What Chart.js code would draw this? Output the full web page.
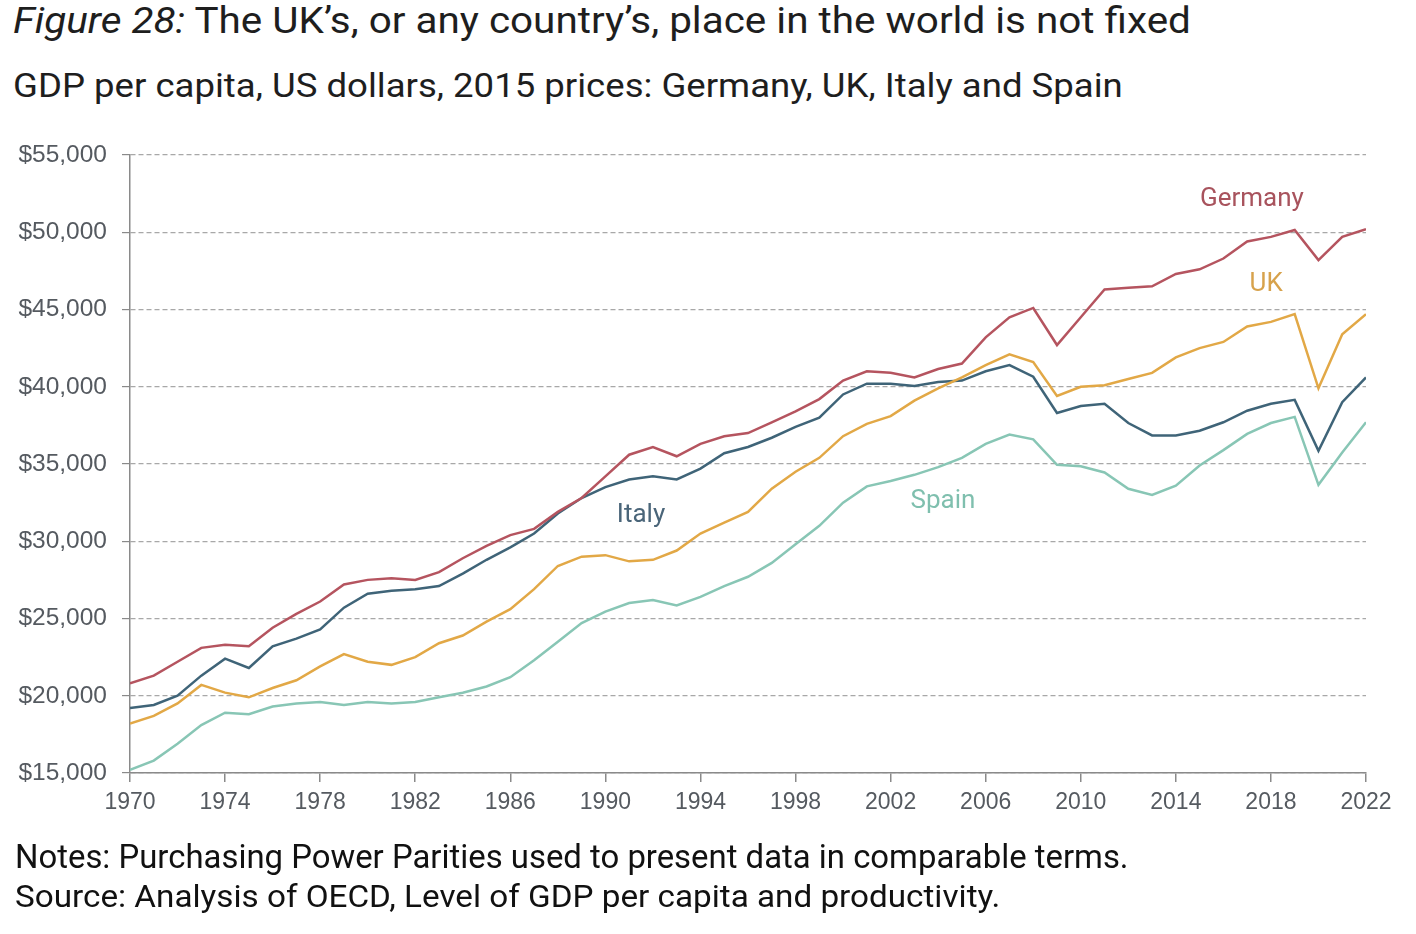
<!DOCTYPE html>
<html>
<head>
<meta charset="utf-8">
<script src="https://cdn.jsdelivr.net/npm/chart.js@4.4.0/dist/chart.umd.min.js"></script>
<style>
  html, body { margin: 0; padding: 0; background: #ffffff; }
  body { width: 1416px; height: 934px; position: relative; overflow: hidden; font-family: Roboto, "Liberation Sans", sans-serif; }
  #c { position: absolute; left: 0; top: 0; }
  .txt { position: absolute; left: 13px; white-space: nowrap; color: #1e1e1e; }
  .txt span.inner { display: inline-block; transform-origin: 0 50%; }
</style>
</head>
<body>
<div class="txt" id="title" style="top:3px;font-size:36px;line-height:36px;"><span class="inner"><i>Figure 28:</i> The UK’s, or any country’s, place in the world is not fixed</span></div>
<div class="txt" id="subtitle" style="top:69px;font-size:33px;line-height:33px;"><span class="inner">GDP per capita, US dollars, 2015 prices: Germany, UK, Italy and Spain</span></div>
<canvas id="c" width="1416" height="934"></canvas>
<div class="txt" id="notes" style="top:840px;font-size:33px;line-height:33px;left:15px;color:#111;"><span class="inner">Notes: Purchasing Power Parities used to present data in comparable terms.</span></div>
<div class="txt" id="source" style="top:880px;font-size:32px;line-height:32px;left:15px;color:#111;"><span class="inner">Source: Analysis of OECD, Level of GDP per capita and productivity.</span></div>
<script>
// ---- data ----
const years = [1970,1971,1972,1973,1974,1975,1976,1977,1978,1979,1980,1981,1982,1983,1984,1985,1986,1987,1988,1989,1990,1991,1992,1993,1994,1995,1996,1997,1998,1999,2000,2001,2002,2003,2004,2005,2006,2007,2008,2009,2010,2011,2012,2013,2014,2015,2016,2017,2018,2019,2020,2021,2022];
const germany = [20800,21300,22200,23100,23300,23200,24400,25300,26100,27200,27500,27600,27500,28000,28900,29700,30400,30800,31900,32800,34200,35600,36100,35500,36300,36800,37000,37700,38400,39200,40400,41000,40900,40600,41150,41500,43200,44500,45100,42700,44500,46300,46400,46500,47300,47600,48300,49400,49700,50150,48200,49700,50200];
const uk = [18200,18700,19500,20700,20200,19900,20500,21000,21900,22700,22200,22000,22500,23400,23900,24800,25600,26900,28400,29000,29100,28700,28800,29400,30500,31200,31900,33400,34500,35400,36800,37600,38100,39100,39900,40600,41400,42100,41600,39400,40000,40100,40500,40900,41900,42500,42900,43900,44200,44700,39900,43400,44700];
const italy = [19200,19400,20000,21300,22400,21800,23200,23700,24300,25700,26600,26800,26900,27100,27900,28800,29600,30500,31800,32800,33500,34000,34200,34000,34700,35700,36100,36700,37400,38000,39500,40200,40200,40050,40300,40400,41000,41400,40650,38300,38750,38900,37650,36850,36850,37150,37700,38450,38900,39150,35850,39000,40600];
const spain = [15200,15800,16900,18100,18900,18800,19300,19500,19600,19400,19600,19500,19600,19900,20200,20600,21200,22300,23500,24700,25450,26000,26200,25850,26400,27100,27700,28600,29800,31000,32500,33550,33900,34300,34800,35400,36300,36900,36600,34950,34850,34450,33400,33000,33600,34900,35900,36950,37650,38050,33650,35750,37700];
const seriesNames = ["Germany","UK","Italy","Spain"];
const yTicks = [15000,20000,25000,30000,35000,40000,45000,50000,55000];
const xTicks = [1970,1974,1978,1982,1986,1990,1994,1998,2002,2006,2010,2014,2018,2022];
// series label anchors (in data units: year, value)
const labelYears = [2017.2, 2017.8, 1991.5, 2004.2];
const labelValues = [52150, 46600, 31650, 32600];

const lineColors = ["#b5545f","#e2a846","#3f6478","#88c6b5"];
const labelColors = ["#a8535d","#d7a24c","#4a6579","#7fbfae"];
const seriesValues = [germany, uk, italy, spain];

const datasets = seriesNames.map((name, i) => ({
  label: name,
  data: years.map((yr, j) => ({x: yr, y: seriesValues[i][j]})),
  borderColor: lineColors[i],
  backgroundColor: lineColors[i],
  borderWidth: 2.5,
  pointRadius: 0,
  tension: 0,
  fill: false
}));

const seriesLabelPlugin = {
  id: 'seriesLabels',
  afterDatasetsDraw(chart) {
    const ctx = chart.ctx;
    const xs = chart.scales.x, ys = chart.scales.y;
    ctx.save();
    ctx.font = '26px Roboto, "Liberation Sans", sans-serif';
    ctx.textAlign = 'center';
    ctx.textBaseline = 'middle';
    seriesNames.forEach((name, i) => {
      ctx.fillStyle = labelColors[i];
      ctx.fillText(name, xs.getPixelForValue(labelYears[i]), ys.getPixelForValue(labelValues[i]));
    });
    ctx.restore();
  }
};

new Chart(document.getElementById('c'), {
  type: 'line',
  data: { datasets },
  plugins: [seriesLabelPlugin],
  options: {
    responsive: false,
    animation: false,
    devicePixelRatio: 1,
    layout: { padding: { left: 0, top: 155, right: 50, bottom: 111 } },
    plugins: { legend: { display: false }, tooltip: { enabled: false }, title: { display: false } },
    scales: {
      x: {
        type: 'linear',
        min: 1970, max: 2022,
        afterBuildTicks(scale) { scale.ticks = xTicks.map(v => ({value: v})); },
        afterFit(scale) { scale.height = 50; },
        ticks: {
          callback: v => String(v),
          color: '#555a60',
          font: { family: '"Liberation Sans", Arial, sans-serif', size: 23 },
          padding: 7,
          maxRotation: 0, autoSkip: false
        },
        grid: { drawOnChartArea: false, drawTicks: true, tickLength: 9, color: '#8a8a8a', lineWidth: 1.5 },
        border: { color: '#8a8a8a', width: 1.5 }
      },
      y: {
        min: 15000, max: 55000,
        afterBuildTicks(scale) { scale.ticks = yTicks.map(v => ({value: v})); },
        afterFit(scale) { scale.width = 130; },
        ticks: {
          callback: v => '$' + Number(v).toLocaleString('en-US'),
          color: '#555a60',
          font: { family: '"Liberation Sans", Arial, sans-serif', size: 24.5 },
          padding: 15
        },
        grid: { drawOnChartArea: true, drawTicks: true, tickLength: 8, color: '#a8a8a8', lineWidth: 1.2, tickColor: '#8a8a8a', tickBorderDash: [] },
        border: { color: '#8a8a8a', width: 1.5, dash: [5, 3] }
      }
    }
  }
});

// fit text widths to the reference (offsetWidth ignores transforms)
function fit(id, target) {
  const el = document.querySelector('#' + id + ' .inner');
  const w = el.offsetWidth;
  if (w > 0) el.style.transform = 'scaleX(' + (target / w) + ')';
}
function fitAll() {
  fit('title', 1178);
  fit('subtitle', 1110);
  fit('notes', 1114);
  fit('source', 985);
}
fitAll();
if (document.fonts && document.fonts.ready) { document.fonts.ready.then(fitAll); }
</script>
</body>
</html>
